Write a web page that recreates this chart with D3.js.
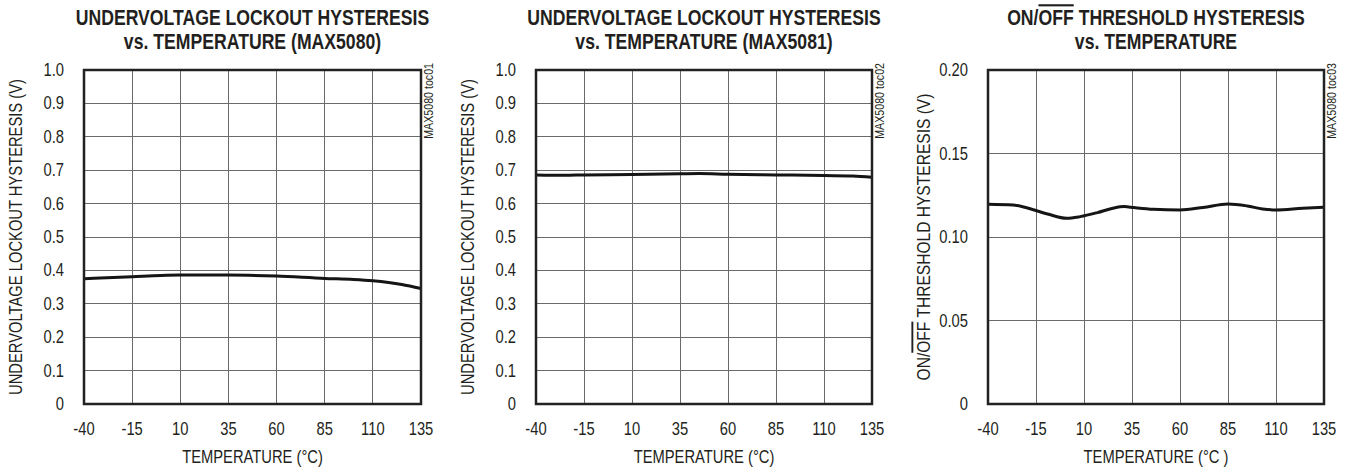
<!DOCTYPE html>
<html lang="en">
<head>
<meta charset="utf-8">
<script src="https://d3js.org/d3.v7.min.js"></script>
<title>Hysteresis vs Temperature</title>
<style type="text/css">
body {
	margin: 0;
	background-color: #ffffff;
	font-family: "Liberation Sans", Arial, sans-serif;
}
.grid line {
	stroke: #6a6a6a;
	stroke-width: 1;
	shape-rendering: crispEdges;
}
.frame {
	fill: none;
	stroke: #222;
	stroke-width: 2.5;
}
.curve {
	fill: none;
	stroke: #151515;
	stroke-width: 3;
}
text { fill: #231f20; }
</style>
</head>
<body>
<script type="text/javascript">
// temperature ticks shared by all three panels
var xTicks = [-40, -15, 10, 35, 60, 85, 110, 135];

// panel 1: MAX5080 UVLO hysteresis (V)
var temps1   = [-40, -15, 0, 10, 35, 60, 85, 100, 110, 125, 135];
var uvlo5080 = [0.375, 0.381, 0.385, 0.386, 0.386, 0.383, 0.376, 0.373, 0.369, 0.358, 0.346];

// panel 2: MAX5081 UVLO hysteresis (V)
var temps2   = [-40, -25, -15, 10, 35, 45, 60, 85, 110, 125, 135];
var uvlo5081 = [0.686, 0.685, 0.686, 0.687, 0.689, 0.690, 0.688, 0.686, 0.684, 0.683, 0.679];

// panel 3: ON/OFF threshold hysteresis (V)
var temps3    = [-40, -27, -19, -9, 1, 8, 17, 25, 31, 36, 46, 60, 72, 85, 95, 103, 110, 124, 135];
var onoffHyst = [0.1196, 0.1192, 0.1172, 0.1138, 0.1112, 0.1122, 0.1146, 0.1172, 0.1182, 0.1176, 0.1166, 0.1162, 0.1177, 0.1198, 0.1186, 0.1168, 0.1162, 0.1172, 0.1178];

var yTicksUV = [0, 0.1, 0.2, 0.3, 0.4, 0.5, 0.6, 0.7, 0.8, 0.9, 1.0];
var yLabelsUV = ["0", "0.1", "0.2", "0.3", "0.4", "0.5", "0.6", "0.7", "0.8", "0.9", "1.0"];
var yTicksOO = [0, 0.05, 0.10, 0.15, 0.20];
var yLabelsOO = ["0", "0.05", "0.10", "0.15", "0.20"];

var width = 1351, height = 468;
var plotTop = 70, plotBottom = 404;
var narrow = 0.82; // squeeze Liberation Sans to look like Arial Narrow

var svg = d3.select("body")
  .append("svg")
  .attr("width", width)
  .attr("height", height);

// text placed at (x, y), optionally rotated, condensed horizontally
function label(g, x, y, size, rot) {
  return g.append("text")
    .attr("transform", "translate(" + x + "," + y + ")" + (rot ? " rotate(" + rot + ")" : "") + " scale(" + narrow + ",1)")
    .style("font-size", size + "px");
}

function panel(opts) {
  var x = d3.scaleLinear().domain([-40, 135]).range([opts.left, opts.right]);
  var y = d3.scaleLinear().domain([0, opts.yMax]).range([plotBottom, plotTop]);
  var g = svg.append("g");
  var cx = (opts.left + opts.right) / 2;

  // gridlines
  var grid = g.append("g").attr("class", "grid");
  grid.selectAll("line.v")
    .data(xTicks.slice(1, -1))
    .enter().append("line")
    .attr("class", "v")
    .attr("x1", function(d) { return x(d); })
    .attr("x2", function(d) { return x(d); })
    .attr("y1", plotTop).attr("y2", plotBottom);
  grid.selectAll("line.h")
    .data(opts.yTicks.slice(1, -1))
    .enter().append("line")
    .attr("class", "h")
    .attr("x1", opts.left).attr("x2", opts.right)
    .attr("y1", function(d) { return y(d); })
    .attr("y2", function(d) { return y(d); });

  // curve
  var line = d3.line()
    .x(function(d) { return x(d[0]); })
    .y(function(d) { return y(d[1]); })
    .curve(d3.curveMonotoneX);
  g.append("path")
    .attr("class", "curve")
    .attr("d", line(d3.zip(opts.temps, opts.values)));

  g.append("rect")
    .attr("class", "frame")
    .attr("x", opts.left).attr("y", plotTop)
    .attr("width", opts.right - opts.left)
    .attr("height", plotBottom - plotTop);

  // tick labels
  xTicks.forEach(function(d) {
    label(g, x(d), 435, 18).attr("text-anchor", "middle").text(d);
  });
  opts.yTicks.forEach(function(d, i) {
    label(g, opts.left - 20, y(d) + 6, 18).attr("text-anchor", "end").text(opts.yLabels[i]);
  });

  // axis titles
  label(g, cx, 463, 18).attr("text-anchor", "middle").text(opts.xTitle);
  var yt = label(g, opts.left - opts.yTitleGap, (plotTop + plotBottom) / 2, opts.yTitleSize, -90).attr("text-anchor", "middle");
  opts.yTitle(yt);

  // titles
  var t = label(g, cx, 25, 21.5).attr("text-anchor", "middle").style("font-weight", "bold");
  opts.title1(t);
  label(g, cx, 49, 21.5).attr("text-anchor", "middle").style("font-weight", "bold").text(opts.title2);

  // part code
  label(g, opts.right + 12, 63, 13, -90).attr("text-anchor", "end").text(opts.code);
}

function onOff(s, rest) {
  s.append("tspan").text("ON/");
  s.append("tspan").style("text-decoration", "overline").text("OFF");
  s.append("tspan").text(rest);
}

panel({
  left: 84, right: 421, yMax: 1.0,
  yTicks: yTicksUV, yLabels: yLabelsUV,
  temps: temps1, values: uvlo5080,
  xTitle: "TEMPERATURE (\u00B0C)",
  yTitleGap: 62, yTitleSize: 18,
  yTitle: function(s) { s.text("UNDERVOLTAGE LOCKOUT HYSTERESIS (V)"); },
  title1: function(s) { s.text("UNDERVOLTAGE LOCKOUT HYSTERESIS"); },
  title2: "vs. TEMPERATURE (MAX5080)",
  code: "MAX5080 toc01"
});

panel({
  left: 536, right: 872, yMax: 1.0,
  yTicks: yTicksUV, yLabels: yLabelsUV,
  temps: temps2, values: uvlo5081,
  xTitle: "TEMPERATURE (\u00B0C)",
  yTitleGap: 62, yTitleSize: 18,
  yTitle: function(s) { s.text("UNDERVOLTAGE LOCKOUT HYSTERESIS (V)"); },
  title1: function(s) { s.text("UNDERVOLTAGE LOCKOUT HYSTERESIS"); },
  title2: "vs. TEMPERATURE (MAX5081)",
  code: "MAX5080 toc02"
});

panel({
  left: 988, right: 1324, yMax: 0.20,
  yTicks: yTicksOO, yLabels: yLabelsOO,
  temps: temps3, values: onoffHyst,
  xTitle: "TEMPERATURE (\u00B0C )",
  yTitleGap: 58, yTitleSize: 19,
  yTitle: function(s) { onOff(s, " THRESHOLD HYSTERESIS (V)"); },
  title1: function(s) { onOff(s, " THRESHOLD HYSTERESIS"); },
  title2: "vs. TEMPERATURE",
  code: "MAX5080 toc03"
});
</script>
</body>
</html>
